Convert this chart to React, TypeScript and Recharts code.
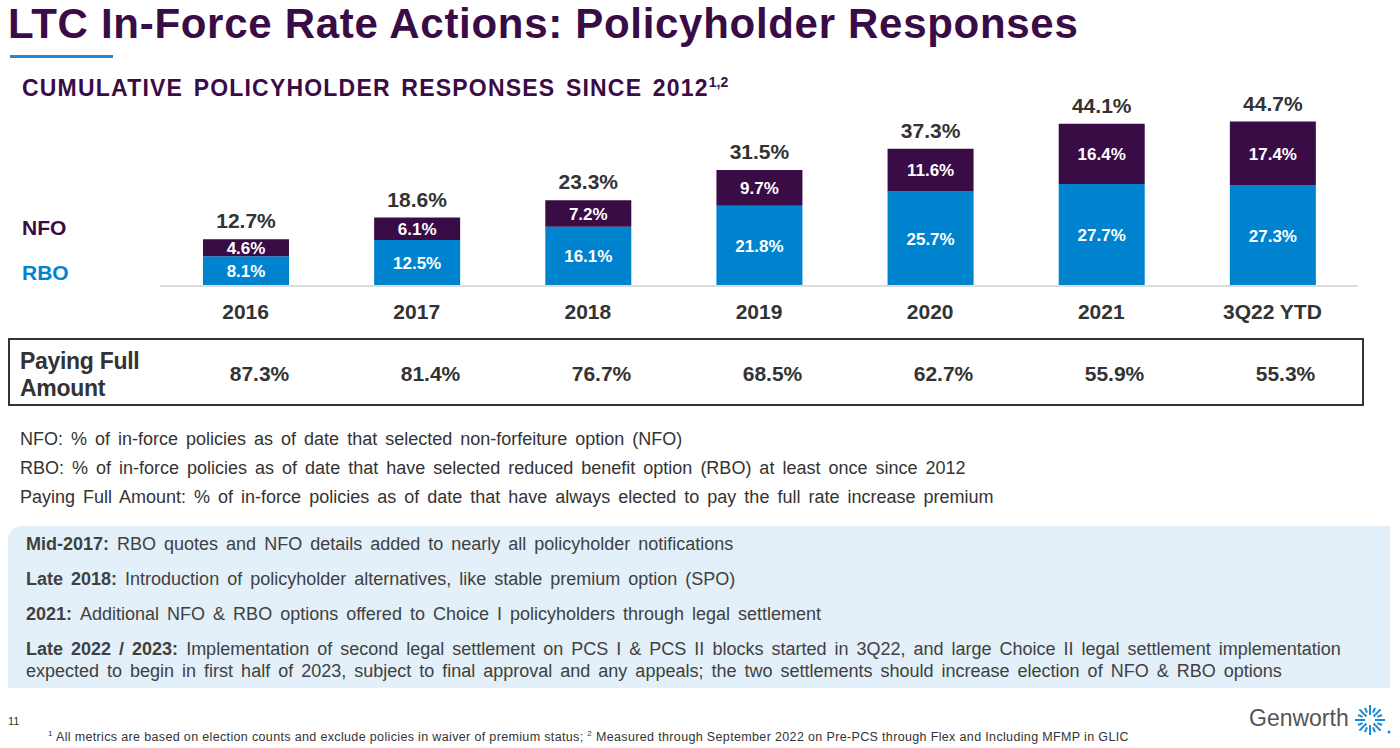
import React from "react";
import { BarChart, Bar, XAxis, YAxis, LabelList } from "recharts";

const categories = ["2016", "2017", "2018", "2019", "2020", "2021", "3Q22 YTD"];
const rboValues = [8.1, 12.5, 16.1, 21.8, 25.7, 27.7, 27.3];
const nfoValues = [4.6, 6.1, 7.2, 9.7, 11.6, 16.4, 17.4];
const totalValues = [12.7, 18.6, 23.3, 31.5, 37.3, 44.1, 44.7];
const payingFull = [87.3, 81.4, 76.7, 68.5, 62.7, 55.9, 55.3];

const milestones = [
  { label: "Mid-2017:", lines: ["RBO quotes and NFO details added to nearly all policyholder notifications"] },
  { label: "Late 2018:", lines: ["Introduction of policyholder alternatives, like stable premium option (SPO)"] },
  { label: "2021:", lines: ["Additional NFO & RBO options offered to Choice I policyholders through legal settlement"] },
  {
    label: "Late 2022 / 2023:",
    lines: [
      "Implementation of second legal settlement on PCS I & PCS II blocks started in 3Q22, and large Choice II legal settlement implementation",
      "expected to begin in first half of 2023, subject to final approval and any appeals; the two settlements should increase election of NFO & RBO options",
    ],
  },
];

const definitions = [
  "NFO: % of in-force policies as of date that selected non-forfeiture option (NFO)",
  "RBO: % of in-force policies as of date that have selected reduced benefit option (RBO) at least once since 2012",
  "Paying Full Amount: % of in-force policies as of date that have always elected to pay the full rate increase premium",
];

const PURPLE = "#3a0c46";
const BLUE = "#0083cf";
const FONT = "'Liberation Sans', Arial, sans-serif";

const data = categories.map((name, i) => ({
  name,
  rbo: rboValues[i],
  nfo: nfoValues[i],
  total: totalValues[i],
}));

const pct = (v: any) => `${Number(v).toFixed(1)}%`;

const TotalLabel = (props: any) => {
  const { x, y, width, index } = props;
  return (
    <text
      x={x + width / 2}
      y={y - 11}
      textAnchor="middle"
      fill="#333"
      fontSize={21}
      fontWeight="bold"
      fontFamily={FONT}
    >
      {pct(totalValues[index])}
    </text>
  );
};

const CategoryTick = (props: any) => {
  const { x, y, payload } = props;
  return (
    <text
      x={x}
      y={y + 25}
      textAnchor="middle"
      fill="#333"
      fontSize={21}
      fontWeight="bold"
      fontFamily={FONT}
    >
      {payload.value}
    </text>
  );
};

export default function App() {
  return (
    <div
      style={{
        position: "fixed",
        left: 0,
        top: 0,
        width: 1400,
        height: 748,
        background: "#fff",
        fontFamily: FONT,
        overflow: "hidden",
      }}
    >
      {/* title */}
      <div
        style={{
          position: "absolute",
          left: 8,
          top: 0,
          fontSize: 42,
          fontWeight: "bold",
          color: PURPLE,
          whiteSpace: "nowrap",
          letterSpacing: 0.7,
        }}
      >
        LTC In-Force Rate Actions: Policyholder Responses
      </div>
      <div style={{ position: "absolute", left: 10, top: 55, width: 103, height: 3, background: "#1a8ad4" }} />

      <div
        style={{
          position: "absolute",
          left: 22,
          top: 74,
          fontSize: 23,
          fontWeight: "bold",
          color: PURPLE,
          whiteSpace: "nowrap",
          letterSpacing: 1.2,
          wordSpacing: 3,
        }}
      >
        CUMULATIVE POLICYHOLDER RESPONSES SINCE 2012
        <sup style={{ fontSize: 14, letterSpacing: 0 }}>1,2</sup>
      </div>

      <div style={{ position: "absolute", left: 22, top: 216, fontSize: 21, fontWeight: "bold", color: PURPLE }}>NFO</div>
      <div style={{ position: "absolute", left: 22, top: 261, fontSize: 21, fontWeight: "bold", color: BLUE }}>RBO</div>

      <div style={{ position: "absolute", left: 0, top: 0 }}>
        <BarChart
          width={1400}
          height={330}
          data={data}
          margin={{ top: 102, right: 42, bottom: 14, left: 160 }}
          barSize={86}
        >
          <XAxis
            dataKey="name"
            axisLine={{ stroke: "#dcdcdc", strokeWidth: 2 }}
            tickLine={false}
            tick={<CategoryTick />}
            height={30}
            interval={0}
          />
          <YAxis hide type="number" domain={[0, 50]} allowDataOverflow />
          <Bar dataKey="rbo" stackId="a" fill={BLUE} isAnimationActive={false}>
            <LabelList
              dataKey="rbo"
              position="center"
              formatter={pct}
              fill="#fff"
              fontSize={17}
              fontWeight="bold"
              fontFamily={FONT}
            />
          </Bar>
          <Bar dataKey="nfo" stackId="a" fill={PURPLE} isAnimationActive={false}>
            <LabelList
              dataKey="nfo"
              position="center"
              formatter={pct}
              fill="#fff"
              fontSize={17}
              fontWeight="bold"
              fontFamily={FONT}
            />
            <LabelList dataKey="total" content={<TotalLabel />} />
          </Bar>
        </BarChart>
      </div>

      {/* paying full amount row */}
      <div
        style={{
          position: "absolute",
          left: 8,
          top: 338,
          width: 1352,
          height: 64,
          border: "2px solid #333",
          boxSizing: "content-box",
        }}
      >
        <div
          style={{
            position: "absolute",
            left: 10,
            top: 8,
            fontSize: 23,
            fontWeight: "bold",
            color: "#333",
            lineHeight: "27px",
            letterSpacing: -0.3,
          }}
        >
          Paying Full
          <br />
          Amount
        </div>
        {payingFull.map((v, i) => (
          <div
            key={categories[i]}
            style={{
              position: "absolute",
              left: 164 + i * 171,
              width: 171,
              top: 22,
              textAlign: "center",
              fontSize: 21,
              fontWeight: "bold",
              color: "#333",
            }}
          >
            {pct(v)}
          </div>
        ))}
      </div>

      {/* definitions */}
      <div
        style={{
          position: "absolute",
          left: 20,
          top: 425,
          fontSize: 18,
          color: "#333",
          lineHeight: "29px",
          wordSpacing: 3,
        }}
      >
        {definitions.map((d) => (
          <div key={d} style={{ whiteSpace: "nowrap" }}>
            {d}
          </div>
        ))}
      </div>

      {/* milestones box */}
      <div
        style={{
          position: "absolute",
          left: 8,
          top: 526,
          width: 1382,
          height: 162,
          background: "#e3f0f9",
          borderTopLeftRadius: 14,
        }}
      >
        {milestones.map((m, i) => (
          <div
            key={m.label}
            style={{
              position: "absolute",
              left: 18,
              top: 7 + i * 35,
              fontSize: 18,
              color: "#404040",
              lineHeight: "22px",
              wordSpacing: 3,
              whiteSpace: "nowrap",
            }}
          >
            {m.lines.map((line, j) => (
              <div key={j}>
                {j === 0 && <b>{m.label} </b>}
                {line}
              </div>
            ))}
          </div>
        ))}
      </div>

      <div style={{ position: "absolute", left: 8, top: 715, fontSize: 11, color: "#333" }}>11</div>
      <div
        style={{
          position: "absolute",
          left: 48,
          top: 729,
          fontSize: 12.5,
          color: "#333",
          whiteSpace: "nowrap",
          letterSpacing: 0.35,
        }}
      >
        <sup style={{ fontSize: 8 }}>1</sup> All metrics are based on election counts and exclude policies in waiver of premium status;{" "}
        <sup style={{ fontSize: 8 }}>2</sup> Measured through September 2022 on Pre-PCS through Flex and Including MFMP in GLIC
      </div>

      {/* logo */}
      <div style={{ position: "absolute", left: 1249, top: 705, fontSize: 23, color: "#555" }}>Genworth</div>
      <svg style={{ position: "absolute", left: 1352, top: 703 }} width={40} height={36}>
        {Array.from({ length: 16 }).map((_, k) => {
          const a = (k / 16) * Math.PI * 2;
          const r1 = k % 2 === 0 ? 5 : 8;
          const r2 = k % 2 === 0 ? 15 : 13;
          return (
            <line
              key={k}
              x1={18 + Math.cos(a) * r1}
              y1={17 + Math.sin(a) * r1}
              x2={18 + Math.cos(a) * r2}
              y2={17 + Math.sin(a) * r2}
              stroke="#1a8ad4"
              strokeWidth={2}
            />
          );
        })}
        <circle cx={37} cy={29} r={1.5} fill="#1a8ad4" />
      </svg>
    </div>
  );
}
